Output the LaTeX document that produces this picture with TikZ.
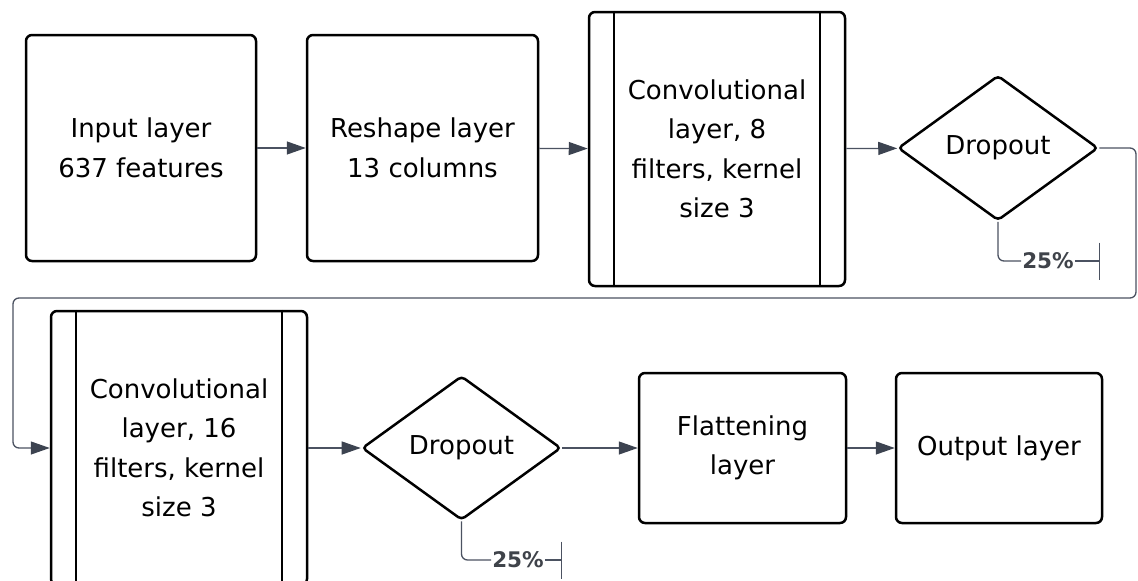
\documentclass[tikz,border=0pt]{standalone}
\usepackage{fontspec}
\setmainfont{DejaVu Sans}
\usetikzlibrary{arrows.meta,shapes.geometric}
\definecolor{edgegray}{HTML}{4B5261}
\definecolor{tipgray}{HTML}{3C4350}
\definecolor{pctgray}{HTML}{3F434A}
\begin{document}
\begin{tikzpicture}[x=1pt,y=-1pt,
  label font/.style={font=\fontsize{26}{39.5}\selectfont},
  box/.style={draw=black, line width=2.5pt, rounded corners=6pt, fill=white,
    align=center, inner sep=0pt, label font},
  layerbox/.style 2 args={box, minimum width=#1, minimum height=#2},
  gate/.style={diamond, draw=black, line width=2.5pt, rounded corners=4pt, fill=white,
    inner sep=0pt, minimum width=200pt, minimum height=145pt, label font},
  flow/.style={draw=edgegray, line width=1.3pt,
    -{Triangle[length=19pt,width=13pt,color=tipgray,fill=tipgray]}},
  rate/.style={draw=edgegray, line width=1.3pt, rounded corners=6pt},
  ratetext/.style={text=pctgray, inner sep=1pt, font=\fontsize{21.5}{22}\selectfont\bfseries},
  stop/.style={draw=edgegray, line width=1.3pt, -{Bar[width=37pt,line width=1.3pt]}},
  rail/.style={draw=black, line width=2pt}
]
\useasboundingbox (0,0) rectangle (1138,581);
\clip (0,0) rectangle (1138,581);

% first row
\node[layerbox={230pt}{226pt}] (in) at (141,148) {Input layer\\637 features};
\node[layerbox={231pt}{226pt}] (rs) at (422.5,148) {Reshape layer\\13 columns};
\node[layerbox={256pt}{274pt}] (c1) at (717,149) {Convolutional\\layer, 8\\filters, kernel\\size 3};
\draw[rail] ([xshift=26pt]c1.north west) -- ([xshift=26pt]c1.south west);
\draw[rail] ([xshift=-26pt]c1.north east) -- ([xshift=-26pt]c1.south east);
\node[gate] (d1) at (998,148) {Dropout};

% second row
\node[layerbox={256pt}{274pt}] (c2) at (179,448) {Convolutional\\layer, 16\\filters, kernel\\size 3};
\draw[rail] ([xshift=26pt]c2.north west) -- ([xshift=26pt]c2.south west);
\draw[rail] ([xshift=-26pt]c2.north east) -- ([xshift=-26pt]c2.south east);
\node[gate, minimum width=199pt, minimum height=144pt] (d2) at (461.5,448) {Dropout};
\node[layerbox={207pt}{150pt}] (fl) at (742.5,448) {Flattening\\layer};
\node[layerbox={206pt}{150pt}] (out) at (999,448) {Output layer};

% dropout rates
\node[ratetext] (p1) at (1048,261) {25\%};
\coordinate (b1) at (1100,261);
\node[ratetext] (p2) at (518,560) {25\%};
\coordinate (b2) at (562,560);
\draw[rate] (d1.south) |- (p1.west);
\draw[stop] (p1.east) -- (b1);
\draw[rate] (d2.south) |- (p2.west);
\draw[stop] (p2.east) -- (b2);

% wrap from the first row to the second
\coordinate (w1) at (1136,298);
\coordinate (w2) at (13,298);
\coordinate (w3) at (13,448);

% connectors
\draw[flow] (in) -- (rs);
\draw[flow] (rs) -- (c1);
\draw[flow] (c1) -- (d1);
\draw[flow, rounded corners=6pt] (d1.east) -| (w1) -- (w2) -- (w3) -- (c2.west);
\draw[flow] (c2) -- (d2);
\draw[flow] (d2) -- (fl);
\draw[flow] (fl) -- (out);
\end{tikzpicture}
\end{document}
